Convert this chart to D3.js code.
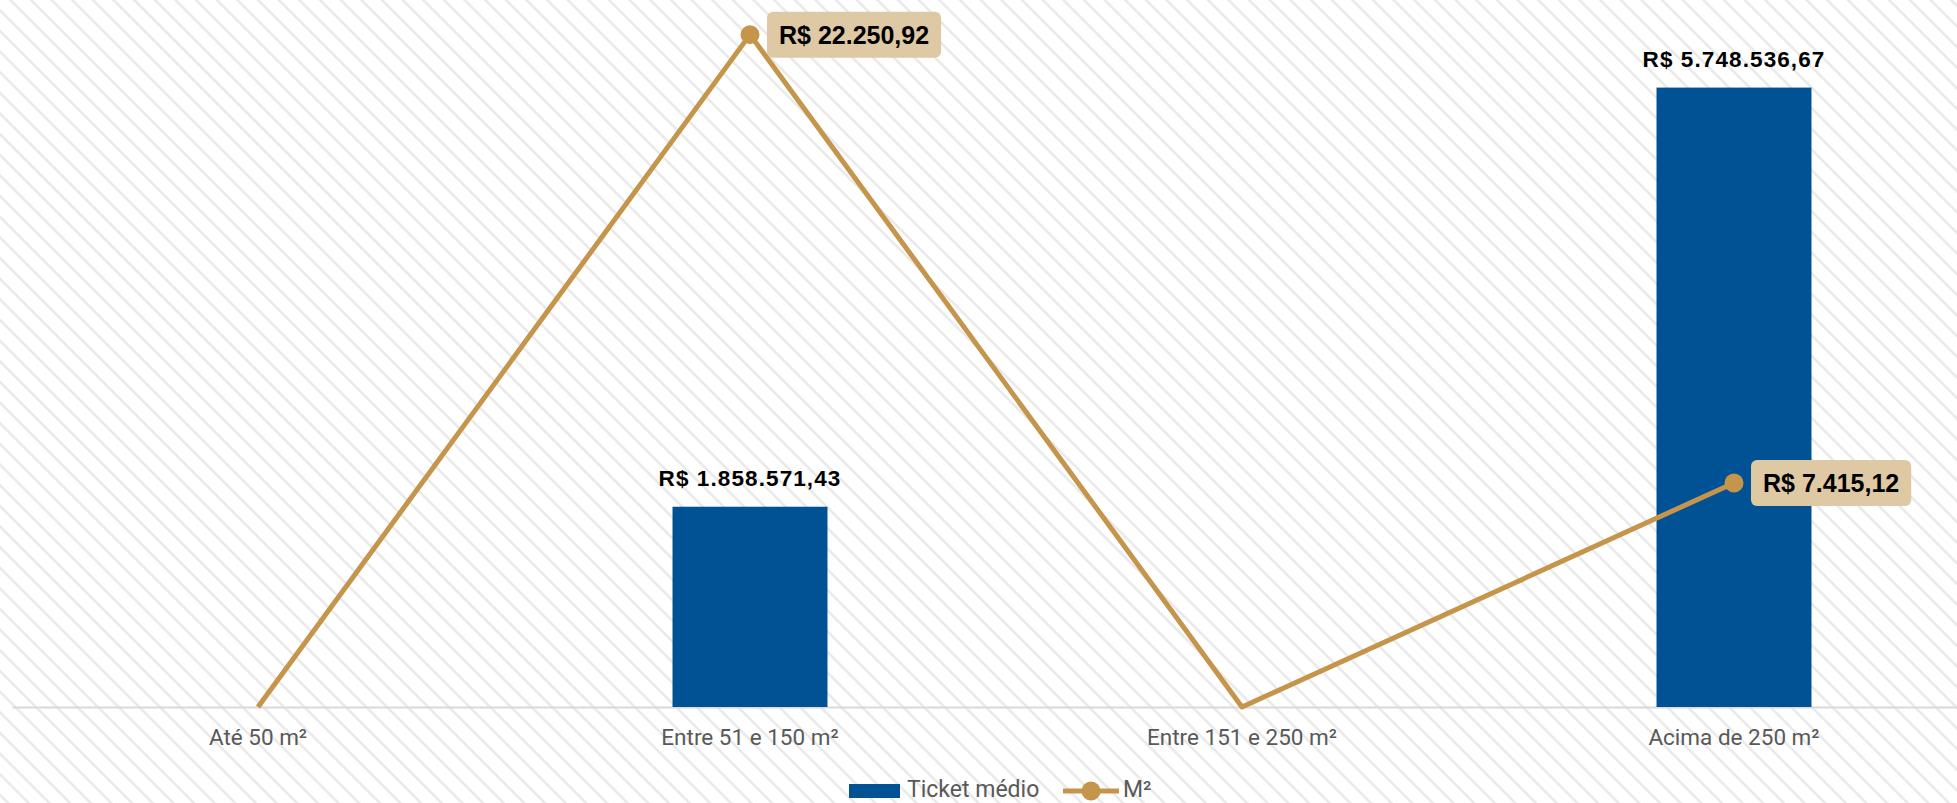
<!DOCTYPE html>
<html>
<head>
<meta charset="utf-8">
<script src="https://cdn.jsdelivr.net/npm/d3@7"></script>
<style>
  body { margin: 0; background: #fff; }
  svg { display: block; }
</style>
</head>
<body>
<div class="chart"></div>
<script>
// data
var categories = ['Até 50 m²', 'Entre 51 e 150 m²', 'Entre 151 e 250 m²', 'Acima de 250 m²'];
var ticketMedio = [0, 1858571.43, 0, 5748536.67];
var valorM2 = [0, 22250.92, 0, 7415.12];
var seriesNames = ['Ticket médio', 'M²'];

var width = 1957, height = 803;
var baseY = 707, topY = 12;

var br = d3.formatLocale({decimal: ',', thousands: '.', grouping: [3], currency: ['R$ ', '']});
var money = br.format('$,.2f');

var rows = categories.map(function(c, i) {
  return {cat: c, ticket: ticketMedio[i], m2: valorM2[i]};
});

var svg = d3.select('.chart')
  .append('svg')
    .attr('width', width)
    .attr('height', height);

// striped background
var defs = svg.append('defs');
var pat = defs.append('pattern')
    .attr('id', 'stripes')
    .attr('patternUnits', 'userSpaceOnUse')
    .attr('width', 14.6)
    .attr('height', 14.6)
    .attr('patternTransform', 'rotate(45)');
pat.append('rect').attr('width', 14.6).attr('height', 14.6).attr('fill', '#fff');
pat.append('line')
    .attr('x1', 0).attr('y1', 7.3).attr('x2', 14.6).attr('y2', 7.3)
    .attr('stroke', '#e6e6e6')
    .attr('stroke-width', 2.2);

svg.append('rect')
    .attr('width', width)
    .attr('height', height)
    .attr('fill', 'url(#stripes)');

var x = d3.scaleBand()
    .domain(categories)
    .range([12, 1980])
    .padding(0);

var yBar = d3.scaleLinear()
    .domain([0, 6450000])
    .range([baseY, topY]);

var yLine = d3.scaleLinear()
    .domain([0, 23000])
    .range([baseY, topY]);

var barW = x.bandwidth() * 0.315;
var cx = function(d) { return x(d.cat) + x.bandwidth() / 2; };

// x axis
var xAx = svg.append('g')
    .attr('transform', 'translate(0,' + baseY + ')')
    .call(d3.axisBottom(x).tickSize(0).tickPadding(22));
xAx.select('.domain')
    .attr('stroke', '#d9d9d9')
    .attr('stroke-width', 2);
xAx.selectAll('text')
    .attr('font-family', 'Roboto, "Liberation Sans", Arial, sans-serif')
    .attr('font-size', '22.5px')
    .attr('fill', '#595959');

// bars
svg.selectAll('.bar')
  .data(rows.filter(function(d) { return d.ticket > 0; }))
  .enter().append('rect')
    .attr('class', 'bar')
    .attr('x', function(d) { return cx(d) - barW / 2; })
    .attr('width', barW)
    .attr('y', function(d) { return yBar(d.ticket); })
    .attr('height', function(d) { return baseY - yBar(d.ticket); })
    .attr('fill', '#015294');

svg.selectAll('.bar-label')
  .data(rows.filter(function(d) { return d.ticket > 0; }))
  .enter().append('text')
    .attr('class', 'bar-label')
    .attr('x', cx)
    .attr('y', function(d) { return yBar(d.ticket) - 21; })
    .attr('text-anchor', 'middle')
    .attr('font-family', '"Liberation Sans", Arial, sans-serif')
    .attr('font-weight', 'bold')
    .attr('font-size', '22.5px')
    .attr('letter-spacing', '1.1px')
    .attr('fill', '#000')
    .text(function(d) { return money(d.ticket); });

// line
var line = d3.line()
    .x(cx)
    .y(function(d) { return yLine(d.m2); });

svg.append('path')
    .datum(rows)
    .attr('d', line)
    .attr('fill', 'none')
    .attr('stroke', '#c4954a')
    .attr('stroke-width', 5)
    .attr('stroke-linejoin', 'round');

var pts = rows.filter(function(d) { return d.m2 > 0; });

svg.selectAll('.dot')
  .data(pts)
  .enter().append('circle')
    .attr('class', 'dot')
    .attr('cx', cx)
    .attr('cy', function(d) { return yLine(d.m2); })
    .attr('r', 9.5)
    .attr('fill', '#c4954a');

// label boxes
var lab = svg.selectAll('.m2-label')
  .data(pts)
  .enter().append('g')
    .attr('class', 'm2-label')
    .attr('transform', function(d) { return 'translate(' + (cx(d) + 17) + ',' + yLine(d.m2) + ')'; });

lab.append('text')
    .attr('x', 12)
    .attr('y', 9)
    .attr('font-family', '"Liberation Sans", Arial, sans-serif')
    .attr('font-weight', 'bold')
    .attr('font-size', '25px')
    .attr('fill', '#000')
    .text(function(d) { return money(d.m2); });

lab.each(function() {
  var g = d3.select(this);
  var bb = g.select('text').node().getBBox();
  g.insert('rect', 'text')
    .attr('x', 0)
    .attr('y', -23)
    .attr('width', bb.width + 24)
    .attr('height', 46)
    .attr('rx', 6)
    .attr('fill', '#dfc8a4');
});

// legend
var leg = svg.append('g')
    .attr('font-family', 'Roboto, "Liberation Sans", Arial, sans-serif')
    .attr('font-size', '23px')
    .attr('fill', '#595959');

leg.append('rect')
    .attr('x', 849).attr('y', 784)
    .attr('width', 51).attr('height', 14)
    .attr('fill', '#015294');
leg.append('text')
    .attr('x', 907).attr('y', 797)
    .text(seriesNames[0]);

leg.append('line')
    .attr('x1', 1063).attr('x2', 1119)
    .attr('y1', 791).attr('y2', 791)
    .attr('stroke', '#c4954a')
    .attr('stroke-width', 5);
leg.append('circle')
    .attr('cx', 1091).attr('cy', 791)
    .attr('r', 9.5)
    .attr('fill', '#c4954a');
leg.append('text')
    .attr('x', 1123).attr('y', 797)
    .text(seriesNames[1]);
</script>
</body>
</html>
